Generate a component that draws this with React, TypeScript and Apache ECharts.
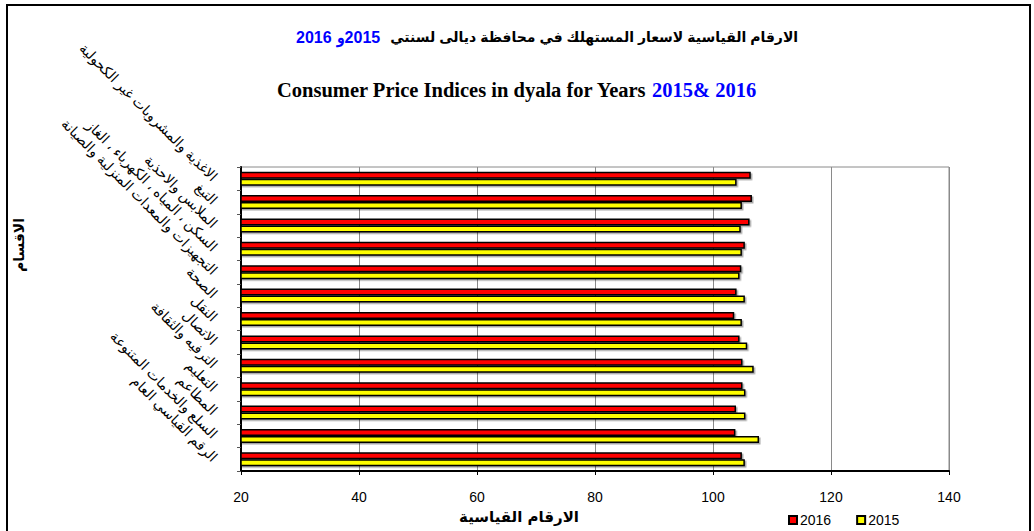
import React, { useEffect, useRef } from "react";
import * as echarts from "echarts";

const categories = [
  "الاغذية والمشروبات غير الكحولية",
  "التبغ",
  "الملابس والاحذية",
  "السكن ، المياه ، الكهرباء ، الغاز",
  "التجهيزات والمعدات المنزلية والصيانة",
  "الصحة",
  "النقل",
  "الاتصال",
  "الترفيه والثقافة",
  "التعليم",
  "المطاعم",
  "السلع والخدمات المتنوعة",
  "الرقم القياسي العام",
];
const values2016 = [106.4, 106.6, 106.2, 105.4, 104.8, 104.0, 103.6, 104.5, 105.0, 105.0, 103.9, 103.8, 104.9];
const values2015 = [104.0, 104.9, 104.7, 104.9, 104.5, 105.4, 104.9, 105.8, 106.9, 105.5, 105.5, 107.8, 105.4];
const seriesNames = ["2016", "2015"];
const xTicks = { min: 20, max: 140, interval: 20 };

const titleAr = "الارقام القياسية لاسعار المستهلك في محافظة ديالى لسنتي";
const titleEn = "Consumer Price Indices in dyala for Years";
const yName = "الاقسام";
const xName = "الارقام القياسية";

export default function App() {
  const ref = useRef<HTMLDivElement>(null);
  useEffect(() => {
    document.body.style.margin = "0";
    const chart = echarts.init(ref.current!, null, { renderer: "svg" });
    const barStyle = (color: string) => ({
      color,
      borderColor: "#000",
      borderWidth: 1.5,
      shadowColor: "rgba(0,0,0,0.35)",
      shadowOffsetX: 1.5,
      shadowOffsetY: 1.5,
      shadowBlur: 0,
    });
    chart.setOption({
      animation: false,
      backgroundColor: "#fff",
      title: [
        {
          text: `{b|2016} {b|و}{b|2015}  {a|${titleAr}}`,
          left: 291,
          top: 23,
          textStyle: {
            rich: {
              a: { fontFamily: "Liberation Sans, DejaVu Sans, sans-serif", fontWeight: "bold", fontSize: 14, color: "#000" },
              b: { fontFamily: "Liberation Sans, sans-serif", fontWeight: "bold", fontSize: 16, color: "#0000ff" },
            },
          },
        },
        {
          text: `{a|${titleEn}} {b|2015& 2016}`,
          left: 272,
          top: 74,
          textStyle: {
            rich: {
              a: { fontFamily: "Liberation Serif, serif", fontWeight: "bold", fontSize: 20.5, color: "#000" },
              b: { fontFamily: "Liberation Serif, serif", fontWeight: "bold", fontSize: 20.5, color: "#0000ff" },
            },
          },
        },
      ],
      legend: {
        data: seriesNames,
        left: 783,
        top: 508,
        icon: "rect",
        itemWidth: 8,
        itemHeight: 8,
        itemGap: 25,
        textStyle: { fontFamily: "Liberation Sans, sans-serif", fontSize: 14, color: "#000", padding: [0, 0, 0, -2] },
      },
      grid: {
        left: 241,
        right: 85,
        top: 167,
        bottom: 60,
        show: true,
        borderColor: "#8a8a8a",
        borderWidth: 1,
        containLabel: false,
      },
      xAxis: {
        type: "value",
        min: xTicks.min,
        max: xTicks.max,
        interval: xTicks.interval,
        axisLine: { show: true, lineStyle: { color: "#000", width: 2 } },
        axisTick: { show: true, length: 4, lineStyle: { color: "#000" } },
        splitLine: { show: true, lineStyle: { color: "#8a8a8a", width: 1 } },
        axisLabel: { fontFamily: "Liberation Sans, sans-serif", fontSize: 14, color: "#000", margin: 19 },
      },
      yAxis: {
        type: "category",
        data: categories,
        inverse: true,
        axisLine: { show: true, lineStyle: { color: "#000", width: 2 } },
        axisTick: { show: true, length: 4, lineStyle: { color: "#555" } },
        axisLabel: {
          interval: 0,
          rotate: -45,
          margin: 26,
          fontFamily: "Liberation Sans, DejaVu Sans, sans-serif",
          fontSize: 14,
          color: "#000",
        },
      },
      graphic: [
        {
          type: "rect",
          shape: { x: 7, y: 5, width: 1023, height: 540 },
          style: { fill: "none", stroke: "#000", lineWidth: 2 },
          silent: true,
        },
        {
          type: "text",
          x: 519,
          y: 517,
          style: {
            text: xName,
            fontFamily: "DejaVu Sans, sans-serif",
            fontWeight: "bold",
            fontSize: 15,
            fill: "#000",
            align: "center",
            verticalAlign: "middle",
          },
        },
        {
          type: "text",
          x: 19,
          y: 245,
          rotation: Math.PI / 2,
          style: {
            text: yName,
            fontFamily: "DejaVu Sans, sans-serif",
            fontWeight: "bold",
            fontSize: 14,
            fill: "#000",
            align: "center",
            verticalAlign: "middle",
          },
        },
      ],
      series: [
        {
          name: seriesNames[0],
          type: "bar",
          data: values2016,
          barWidth: 7,
          barGap: "0%",
          itemStyle: barStyle("#ff0000"),
        },
        {
          name: seriesNames[1],
          type: "bar",
          data: values2015,
          barWidth: 7,
          barGap: "0%",
          itemStyle: barStyle("#ffff00"),
        },
      ],
    });
    return () => chart.dispose();
  }, []);
  return <div ref={ref} style={{ width: 1034, height: 531 }} />;
}
